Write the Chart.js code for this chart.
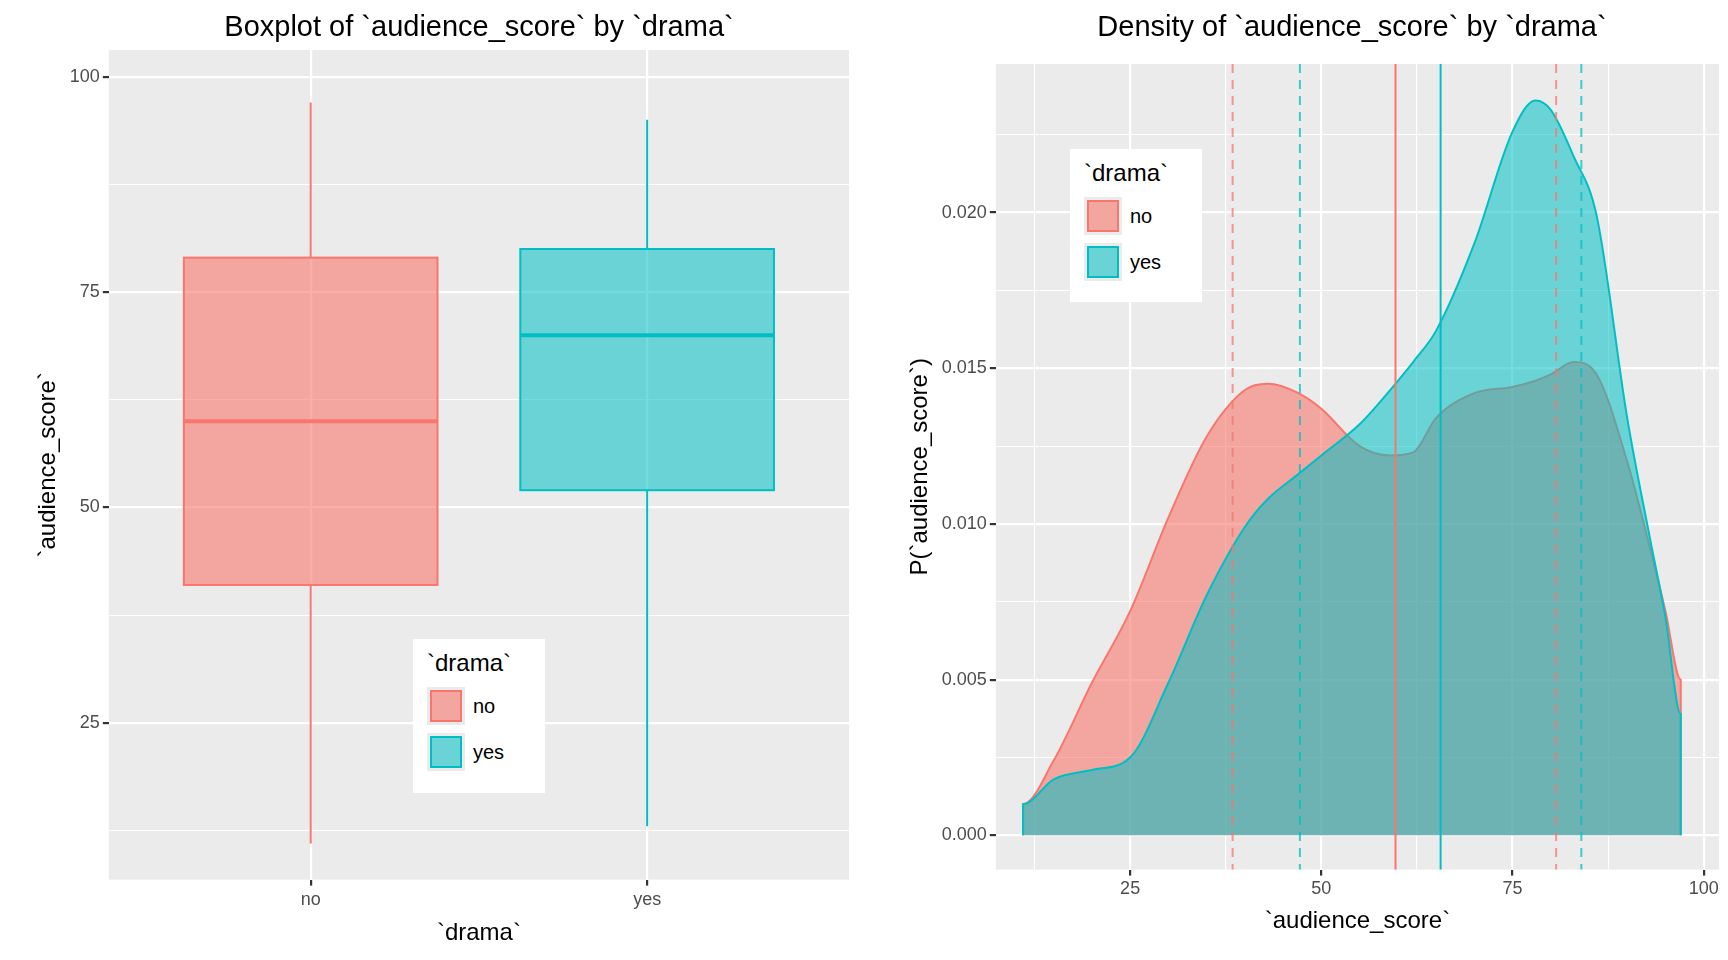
<!DOCTYPE html>
<html>
<head>
<meta charset="utf-8">
<script src="https://cdn.jsdelivr.net/npm/chart.js@4.4.1/dist/chart.umd.min.js"></script>
<style>
  body { margin: 0; background: #fff; font-family: "Liberation Sans", Arial, sans-serif; }
  #wrap { position: relative; width: 1728px; height: 960px; }
  .cv { position: absolute; top: 0; }
  .title { position: absolute; top: 10px; font-size: 29px; color: #000; text-align: center; }
  .legend { position: absolute; background: #fff; font-size: 20px; color: #000; padding: 10px 14px; box-sizing: border-box; }
  .legend .h { font-size: 24px; margin-bottom: 6px; }
  .legend .row { display: flex; align-items: center; height: 46px; }
  .key { width: 38px; height: 38px; background: #EBEBEB; position: relative; margin-right: 8px; }
  .key i { position: absolute; left: 3px; top: 3px; width: 28px; height: 28px; border: 2px solid; }
</style>
</head>
<body>
<div id="wrap">
  <canvas id="box" class="cv" style="left:0" width="880" height="960"></canvas>
  <canvas id="dens" class="cv" style="left:880px" width="848" height="960"></canvas>
  <div class="title" style="left:0;width:958px">Boxplot of `audience_score` by `drama`</div>
  <div class="title" style="left:880px;width:944px">Density of `audience_score` by `drama`</div>
  <div class="legend" style="left:413px;top:639px;width:132px;height:154px">
    <div class="h">`drama`</div>
    <div class="row"><div class="key"><i style="border-color:#F8766D;background:rgba(248,118,109,0.6)"></i></div>no</div>
    <div class="row"><div class="key"><i style="border-color:#00BFC4;background:rgba(0,191,196,0.55)"></i></div>yes</div>
  </div>
  <div class="legend" style="left:1070px;top:149px;width:132px;height:153px">
    <div class="h">`drama`</div>
    <div class="row"><div class="key"><i style="border-color:#F8766D;background:rgba(248,118,109,0.6)"></i></div>no</div>
    <div class="row"><div class="key"><i style="border-color:#00BFC4;background:rgba(0,191,196,0.55)"></i></div>yes</div>
  </div>
</div>
<script>
// Boxplot summaries per group
const groups = ['no', 'yes'];
const colors = ['#F8766D', '#00BFC4'];
const fills = ['rgba(248,118,109,0.6)', 'rgba(0,191,196,0.55)'];
const whiskerLow = [11, 13];
const q1 = [41, 52];
const median = [60, 70];
const q3 = [79, 80];
const whiskerHigh = [97, 95];

// Density curves
const densX = [11, 15, 20, 25, 30, 35, 40, 43, 47, 50, 55, 59, 62, 65, 70, 75, 78, 80, 83, 86, 90, 93, 95, 97];
const densNo = [0.0010, 0.0024, 0.0049, 0.0072, 0.0102, 0.0128, 0.0143, 0.0145, 0.0142, 0.0137, 0.0125, 0.0122, 0.0123, 0.0134, 0.0142, 0.0144, 0.0146, 0.0148, 0.0152, 0.0148, 0.0120, 0.0092, 0.0072, 0.0050];
const densYes = [0.0010, 0.0018, 0.0021, 0.0025, 0.0049, 0.0077, 0.0099, 0.0108, 0.0116, 0.0122, 0.0132, 0.0143, 0.0152, 0.0162, 0.0190, 0.0226, 0.0236, 0.0233, 0.0218, 0.0199, 0.0134, 0.0095, 0.0070, 0.0039];
const meanLines = [59.7, 65.6];
const quartileLines = [[38.4, 80.7], [47.2, 84.0]];

const FONT = '"Liberation Sans", Arial, sans-serif';
Chart.defaults.font.family = FONT;
Chart.defaults.animation = false;

const panelBg = {
  id: 'panelBg',
  beforeDraw(chart) {
    const { ctx, chartArea: a } = chart;
    ctx.save();
    ctx.fillStyle = '#EBEBEB';
    ctx.fillRect(a.left, a.top, a.right - a.left, a.bottom - a.top);
    ctx.restore();
  }
};

function halfTicks(step) {
  const major = v => Math.abs(v / step - Math.round(v / step)) < 1e-6;
  return {
    grid: {
      color: '#fff',
      lineWidth: c => (major(c.tick.value) ? 2.2 : 1.1),
      tickColor: c => (major(c.tick.value) ? '#333' : 'rgba(0,0,0,0)'),
      tickLength: 6,
      drawTicks: true
    },
    border: { display: false }
  };
}

const tickFont = { size: 18 };
const axisTitle = (t) => ({ display: true, text: t, color: '#000', font: { size: 24 } });

// Left: boxplot
const boxPlugin = {
  id: 'boxes',
  afterDatasetsDraw(chart) {
    const { ctx } = chart;
    const x = chart.scales.x, y = chart.scales.y;
    const half = 0.377;
    groups.forEach((g, i) => {
      const cx = x.getPixelForValue(i + 1);
      const l = x.getPixelForValue(i + 1 - half), r = x.getPixelForValue(i + 1 + half);
      ctx.save();
      ctx.strokeStyle = colors[i];
      ctx.lineWidth = 2;
      ctx.beginPath();
      ctx.moveTo(cx, y.getPixelForValue(whiskerLow[i]));
      ctx.lineTo(cx, y.getPixelForValue(q1[i]));
      ctx.moveTo(cx, y.getPixelForValue(q3[i]));
      ctx.lineTo(cx, y.getPixelForValue(whiskerHigh[i]));
      ctx.stroke();
      const top = y.getPixelForValue(q3[i]), bot = y.getPixelForValue(q1[i]);
      ctx.fillStyle = fills[i];
      ctx.fillRect(l, top, r - l, bot - top);
      ctx.strokeRect(l, top, r - l, bot - top);
      ctx.lineWidth = 4;
      ctx.beginPath();
      const m = y.getPixelForValue(median[i]);
      ctx.moveTo(l, m); ctx.lineTo(r, m);
      ctx.stroke();
      ctx.restore();
    });
  }
};

const bx = halfTicks(25);
new Chart(document.getElementById('box'), {
  type: 'scatter',
  data: { datasets: [{ data: groups.map((g, i) => ({ x: i + 1, y: median[i] })), pointRadius: 0 }] },
  options: {
    responsive: false,
    layout: { padding: { top: 50, right: 31, bottom: 8, left: 30 } },
    plugins: { legend: { display: false }, tooltip: { enabled: false } },
    scales: {
      x: {
        type: 'linear', min: 0.4, max: 2.6,
        afterBuildTicks: s => { s.ticks = [{ value: 1 }, { value: 2 }]; },
        ticks: { callback: v => groups[v - 1], color: '#4D4D4D', font: tickFont, padding: 4 },
        grid: { color: '#fff', lineWidth: 2.2, tickColor: '#333', tickLength: 6 },
        border: { display: false },
        title: axisTitle('`drama`')
      },
      y: {
        min: 6.8, max: 103.1,
        afterBuildTicks: s => { s.ticks = [12.5, 25, 37.5, 50, 62.5, 75, 87.5, 100].map(v => ({ value: v })); },
        ticks: { callback: v => (v % 25 === 0 ? v : ''), color: '#4D4D4D', font: tickFont },
        grid: bx.grid, border: bx.border,
        title: axisTitle('`audience_score`')
      }
    }
  },
  plugins: [panelBg, boxPlugin]
});

// Right: density
const vlinePlugin = {
  id: 'vlines',
  afterDatasetsDraw(chart) {
    const { ctx, chartArea: a } = chart;
    const x = chart.scales.x;
    ctx.save();
    ctx.lineWidth = 2;
    quartileLines.forEach((vals, i) => {
      ctx.strokeStyle = i === 0 ? 'rgba(248,118,109,0.75)' : 'rgba(0,191,196,0.75)';
      ctx.setLineDash([9, 7]);
      vals.forEach(v => {
        const px = x.getPixelForValue(v);
        ctx.beginPath(); ctx.moveTo(px, a.top); ctx.lineTo(px, a.bottom); ctx.stroke();
      });
    });
    ctx.setLineDash([]);
    meanLines.forEach((v, i) => {
      ctx.strokeStyle = colors[i];
      const px = x.getPixelForValue(v);
      ctx.beginPath(); ctx.moveTo(px, a.top); ctx.lineTo(px, a.bottom); ctx.stroke();
    });
    ctx.restore();
  }
};

function curve(vals) {
  const pts = densX.map((x, i) => ({ x, y: vals[i] }));
  pts.unshift({ x: densX[0], y: 0 });
  pts.push({ x: densX[densX.length - 1], y: 0 });
  return pts;
}

const dx = halfTicks(25), dy = halfTicks(0.005);
new Chart(document.getElementById('dens'), {
  type: 'line',
  data: {
    datasets: [
      { data: curve(densNo), order: 1, borderColor: '#F8766D', backgroundColor: 'rgba(248,118,109,0.6)', fill: 'origin', borderWidth: 2, pointRadius: 0, cubicInterpolationMode: 'monotone' },
      { data: curve(densYes), order: 0, borderColor: '#00BFC4', backgroundColor: 'rgba(0,191,196,0.55)', fill: 'origin', borderWidth: 2, pointRadius: 0, cubicInterpolationMode: 'monotone' }
    ]
  },
  options: {
    responsive: false,
    layout: { padding: { top: 64, right: 9, bottom: 20, left: 22 } },
    plugins: { legend: { display: false }, tooltip: { enabled: false } },
    scales: {
      x: {
        type: 'linear', min: 7.44, max: 102,
        afterBuildTicks: s => { s.ticks = [12.5, 25, 37.5, 50, 62.5, 75, 87.5, 100].map(v => ({ value: v })); },
        ticks: { callback: v => (v % 25 === 0 ? v : ''), color: '#4D4D4D', font: tickFont, maxRotation: 0 },
        grid: dx.grid, border: dx.border,
        title: axisTitle('`audience_score`')
      },
      y: {
        min: -0.0011, max: 0.02477,
        afterBuildTicks: s => { s.ticks = [0, 0.0025, 0.005, 0.0075, 0.01, 0.0125, 0.015, 0.0175, 0.02, 0.0225].map(v => ({ value: v })); },
        ticks: { callback: v => (Math.abs(v / 0.005 - Math.round(v / 0.005)) < 1e-6 ? v.toFixed(3) : ''), color: '#4D4D4D', font: tickFont },
        grid: dy.grid, border: dy.border,
        title: axisTitle('P(`audience_score`)')
      }
    }
  },
  plugins: [panelBg, vlinePlugin]
});
</script>
</body>
</html>
